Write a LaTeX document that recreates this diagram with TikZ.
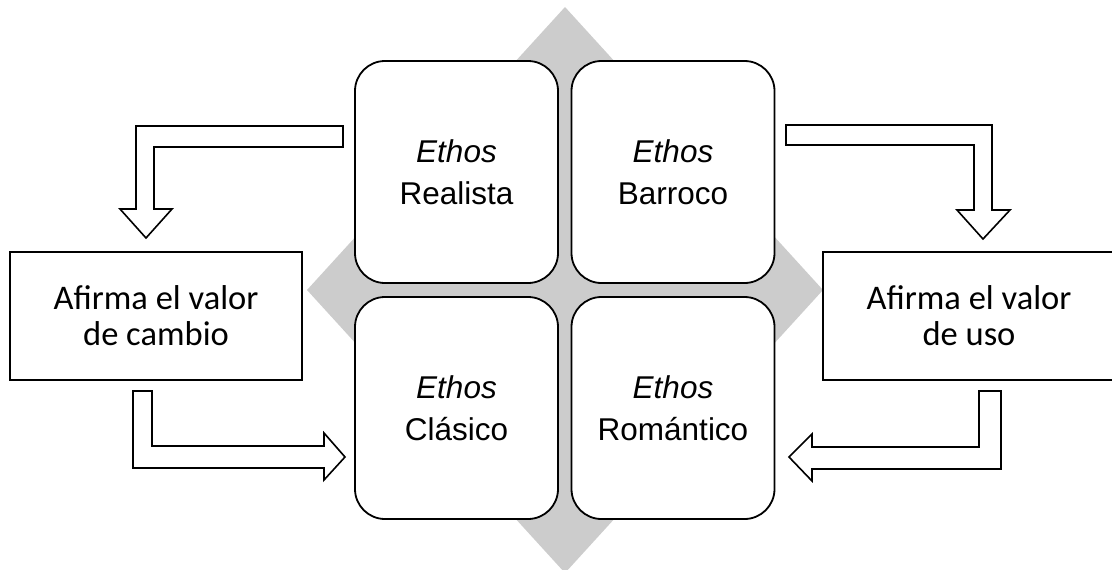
\documentclass[tikz,border=0pt]{standalone}
\usepackage{fontspec}
\setmainfont{Liberation Sans}
\newfontfamily\calibri{Carlito}
\usepackage{tikz}
\tikzset{ethos/.style={
    draw, fill=white, line width=1.8pt,
    rounded corners=30pt,
    minimum width=203pt, minimum height=222pt,
    align=center, font=\fontsize{31.5}{42}\selectfont
  },
  valor/.style={
    draw, fill=white, line width=1.6pt,
    minimum width=292pt, minimum height=128pt,
    align=center, font=\calibri\fontsize{34.5}{36}\selectfont
  },
  hollow/.style={draw, fill=white, line width=1.6pt, line join=miter}
}

\begin{document}
\begin{tikzpicture}[x=1pt,y=-1pt]
      \useasboundingbox (0,0) rectangle (1112,570);
      \begin{scope}
        \clip (0,0) rectangle (1112,570);
        \fill[black!20] (565,7) -- (823,290) -- (565,573) -- (307,290) -- cycle;
      \end{scope}
      \node[ethos] (realista) at (456.5,172) {\textit{Ethos}\\Realista};
      \node[ethos] (barroco) at (673,172) {\textit{Ethos}\\Barroco};
      \node[ethos] (clasico) at (456.5,408) {\textit{Ethos}\\Clásico};
      \node[ethos] (romantico) at (673,408) {\textit{Ethos}\\Romántico};
      \node[valor] (cambio) at (156,316) {Afirma el valor\\de cambio};
      \node[valor] (uso) at (969,316) {Afirma el valor\\de uso};
      % block arrows
      \draw[hollow] (343,126) -- (136,126) -- (136,209) -- (120,209) -- (146,238) -- (172,209) -- (154,209) -- (154,147) -- (343,147) -- cycle;
      \draw[hollow] (786,125) -- (992,125) -- (992,210) -- (1010,210) -- (983,239) -- (957,210) -- (974,210) -- (974,145) -- (786,145) -- cycle;
      \draw[hollow] (133,391) -- (152,391) -- (152,446) -- (324,446) -- (324,433) -- (345,457) -- (324,480) -- (324,468) -- (133,468) -- cycle;
      \draw[hollow] (1001,391) -- (979,391) -- (979,447) -- (812,447) -- (812,434) -- (789,457) -- (812,481) -- (812,469) -- (1001,469) -- cycle;
    \end{tikzpicture}
\end{document}
